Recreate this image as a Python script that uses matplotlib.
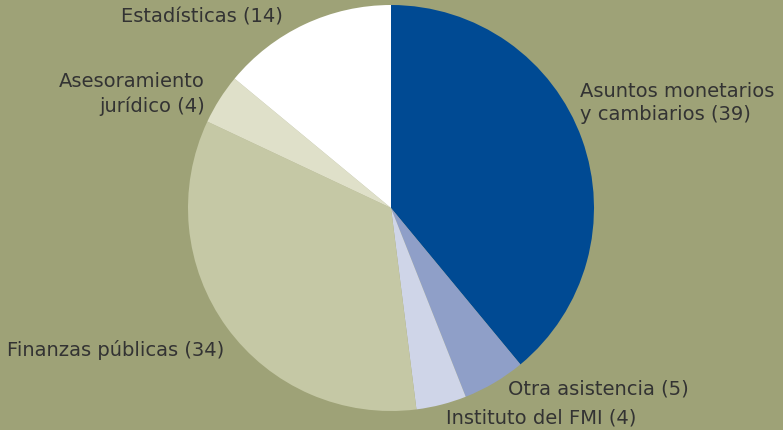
import matplotlib.pyplot as plt

# shares of technical assistance (percent)
labels = ['Asuntos monetarios\ny cambiarios (39)', 'Otra asistencia (5)', 'Instituto del FMI (4)',
          'Finanzas públicas (34)', 'Asesoramiento\njurídico (4)', 'Estadísticas (14)']
values = [39, 5, 4, 34, 4, 14]
colors = ['#004a93', '#8f9fc8', '#cfd5e8', '#c5c8a5', '#dfe0c9', '#ffffff']

BG = '#9ea277'
TXT = '#333333'
W, H = 783, 430

fig = plt.figure(figsize=(W / 100, H / 100), dpi=100, facecolor=BG)
ax = fig.add_axes([0, 0, 1, 1])
ax.set_facecolor(BG)

ax.pie(values, colors=colors, startangle=90, counterclock=False,
       center=(391, H - 208), radius=203, frame=True,
       wedgeprops=dict(linewidth=0))
ax.set_xlim(0, W)
ax.set_ylim(0, H)
ax.set_aspect('equal')
ax.axis('off')

# label positions in pixels (x, y from top, alignment)
pos = [(580, 103, 'left'), (508, 389, 'left'), (446, 418, 'left'),
       (7, 350, 'left'), (205, 94, 'right'), (283, 17, 'right')]
for lab, (x, y, ha) in zip(labels, pos):
    ax.text(x, H - y, lab, ha=ha, va='center', fontsize=14, color=TXT,
            linespacing=1.3, family='DejaVu Sans')

fig.savefig('out.png', dpi=100, facecolor=BG)
